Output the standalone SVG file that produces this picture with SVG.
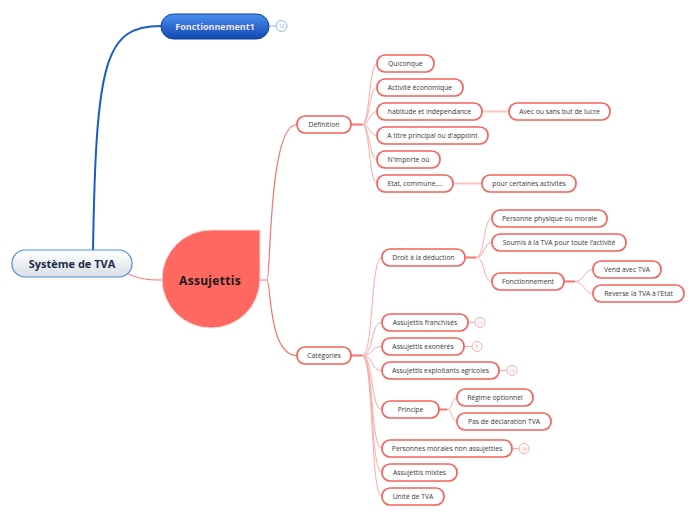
<svg xmlns="http://www.w3.org/2000/svg" width="696" height="520" viewBox="0 0 696 520">
<defs>
<linearGradient id="gRoot" x1="0" y1="0" x2="0" y2="1"><stop offset="0" stop-color="#ffffff"/><stop offset="1" stop-color="#d9dfe6"/></linearGradient>
<linearGradient id="gBlue" x1="0" y1="0" x2="0" y2="1"><stop offset="0" stop-color="#4a8ff0"/><stop offset="1" stop-color="#1148b0"/></linearGradient>
</defs>
<style>
.pill{fill:#fff;stroke:#f4625c;stroke-width:1.7}
.t{font-family:"Open Sans","Noto Sans","Liberation Sans",sans-serif;font-size:6.8px;fill:#3a3a3a;text-anchor:middle;dominant-baseline:central}
.c{fill:none;stroke:#f9aaa6;stroke-width:1}
.stub{fill:none;stroke:#f6746e;stroke-width:2}
.lnk{fill:none;stroke:#fbc4c1;stroke-width:2}
.badge{fill:#fff;stroke:#f9aaa6;stroke-width:1}
.bt{font-family:"Open Sans","Liberation Sans",sans-serif;font-size:5px;fill:#f49a95;text-anchor:middle;dominant-baseline:central}
</style>
<rect width="696" height="520" fill="#fff"/>
<g id="connectors">
<path d="M93,251 C96,60 105,26 161,26" fill="none" stroke="#1a5cc8" stroke-width="2"/>
<path d="M124,272 C140,280 150,280 163,280" fill="none" stroke="#f6746e" stroke-width="1"/>
<path d="M260,280 L267,280 C271,280 268,124.5 297,124.5" fill="none" stroke="#f6746e" stroke-width="1.2"/>
<path d="M267,280 C271,280 268,355.5 297,355.5" fill="none" stroke="#f6746e" stroke-width="1.2"/>
<path class="stub" d="M351,124.5 H362"/>
<path class="c" d="M362,124.5 C370,124.5 369,63.5 377,63.5"/>
<path class="c" d="M362,124.5 C370,124.5 369,87.5 377,87.5"/>
<path class="c" d="M362,124.5 C370,124.5 369,111.5 377,111.5"/>
<path class="c" d="M362,124.5 C370,124.5 369,135.5 377,135.5"/>
<path class="c" d="M362,124.5 C370,124.5 369,159.5 377,159.5"/>
<path class="c" d="M362,124.5 C370,124.5 369,183.5 377,183.5"/>
<path class="lnk" d="M482,111.5 H509"/>
<path class="lnk" d="M453,183.5 H482"/>
<path class="stub" d="M351,355.5 H362"/>
<path class="c" d="M362,355.5 C374,355.5 370,257.5 382,257.5"/>
<path class="c" d="M362,355.5 C374,355.5 370,322.5 382,322.5"/>
<path class="c" d="M362,355.5 C374,355.5 370,346.5 382,346.5"/>
<path class="c" d="M362,355.5 C374,355.5 370,370.5 382,370.5"/>
<path class="c" d="M362,355.5 C374,355.5 370,409.5 382,409.5"/>
<path class="c" d="M362,355.5 C374,355.5 370,448.5 382,448.5"/>
<path class="c" d="M362,355.5 C374,355.5 370,472.5 382,472.5"/>
<path class="c" d="M362,355.5 C374,355.5 370,496.5 382,496.5"/>
<path class="stub" d="M465,257.5 H476"/>
<path class="c" d="M476,257.5 C485,257.5 483,218.5 492,218.5"/>
<path class="c" d="M476,257.5 C485,257.5 483,242.5 492,242.5"/>
<path class="c" d="M476,257.5 C485,257.5 483,281.5 492,281.5"/>
<path class="stub" d="M564,281.5 H575"/>
<path class="c" d="M575,281.5 C584,281.5 584,269.5 593,269.5"/>
<path class="c" d="M575,281.5 C584,281.5 584,293.5 593,293.5"/>
<path class="stub" d="M439,409.5 H447"/>
<path class="c" d="M447,409.5 C453,409.5 451,397.5 457,397.5"/>
<path class="c" d="M447,409.5 C453,409.5 451,421.5 457,421.5"/>
<path d="M269,26 H276" stroke="#8fb4ee" stroke-width="1"/>
<path class="c" d="M468,322.5 H475"/>
<path class="c" d="M464,346.5 H472"/>
<path class="c" d="M499,370.5 H507"/>
<path class="c" d="M512,448.5 H519"/>
</g>
<g id="root">
<rect x="12" y="250" width="120" height="27" rx="13" fill="url(#gRoot)" stroke="#4b8fd6" stroke-width="1.2"/>
<text x="72" y="263.5" font-family="'Open Sans','Noto Sans','Liberation Sans',sans-serif" font-size="11" font-weight="bold" fill="#1e2c48" text-anchor="middle" dominant-baseline="central">Système de TVA</text>
</g>
<g id="fonctionnement1">
<rect x="161" y="14" width="108" height="25" rx="12.5" fill="url(#gBlue)" stroke="#0f3f9a" stroke-width="1"/>
<text x="215" y="26.5" font-family="'Open Sans','Noto Sans','Liberation Sans',sans-serif" font-size="9" font-weight="bold" fill="#f1e4f4" text-anchor="middle" dominant-baseline="central">Fonctionnement1</text>
<circle cx="281.5" cy="26" r="5.5" fill="#fff" stroke="#8fb4ee" stroke-width="1"/>
<text x="281.5" y="26.3" font-family="'Open Sans','Liberation Sans',sans-serif" font-size="5" fill="#7fa6e6" text-anchor="middle" dominant-baseline="central">12</text>
</g>
<g id="assujettis">
<path d="M211,230 L260,230 L260,279 A49,49 0 0 1 211,328 A49,49 0 0 1 162,279 A49,49 0 0 1 211,230 Z" fill="#ff6861" stroke="#f7dcdb" stroke-width="1"/>
<text x="210" y="280" font-family="'Open Sans','Noto Sans','Liberation Sans',sans-serif" font-size="12" font-weight="bold" fill="#1a1a1a" text-anchor="middle" dominant-baseline="central" letter-spacing="0.3">Assujettis</text>
</g>
<g id="definition"><rect class="pill" x="297" y="116" width="54" height="17" rx="8"/><text class="t" x="324" y="124.5">Définition</text></g>
<g id="categories"><rect class="pill" x="297" y="347" width="54" height="17" rx="8"/><text class="t" x="324" y="355.5">Catégories</text></g>
<g id="quiconque"><rect class="pill" x="377" y="55" width="57" height="17" rx="8"/><text class="t" x="405.5" y="63.5">Quiconque</text></g>
<g id="activite"><rect class="pill" x="377" y="79" width="86" height="17" rx="8"/><text class="t" x="420" y="87.5">Activité économique</text></g>
<g id="habitude"><rect class="pill" x="377" y="103" width="105" height="17" rx="8"/><text class="t" x="429.5" y="111.5">habitude et indépendance</text></g>
<g id="titre"><rect class="pill" x="377" y="127" width="111" height="17" rx="8"/><text class="t" x="432.5" y="135.5">A titre principal ou d'appoint</text></g>
<g id="importe"><rect class="pill" x="377" y="151" width="63" height="17" rx="8"/><text class="t" x="408.5" y="159.5">N'importe où</text></g>
<g id="etat"><rect class="pill" x="377" y="175" width="76" height="17" rx="8"/><text class="t" x="415" y="183.5">Etat, commune,...</text></g>
<g id="avec"><rect class="pill" x="509" y="103" width="101" height="17" rx="8"/><text class="t" x="559.5" y="111.5">Avec ou sans but de lucre</text></g>
<g id="pour"><rect class="pill" x="482" y="175" width="94" height="17" rx="8"/><text class="t" x="529" y="183.5">pour certaines activités</text></g>
<g id="droit"><rect class="pill" x="382" y="249" width="83" height="17" rx="8"/><text class="t" x="423.5" y="257.5">Droit à la déduction</text></g>
<g id="personne"><rect class="pill" x="492" y="210" width="115" height="17" rx="8"/><text class="t" x="549.5" y="218.5">Personne physique ou morale</text></g>
<g id="soumis"><rect class="pill" x="492" y="234" width="134" height="17" rx="8"/><text class="t" x="559" y="242.5">Soumis à la TVA pour toute l’activité</text></g>
<g id="fonctionnement"><rect class="pill" x="492" y="273" width="72" height="17" rx="8"/><text class="t" x="528" y="281.5">Fonctionnement</text></g>
<g id="vend"><rect class="pill" x="593" y="261" width="68" height="17" rx="8"/><text class="t" x="627" y="269.5">Vend avec TVA</text></g>
<g id="reverse"><rect class="pill" x="593" y="285" width="91" height="17" rx="8"/><text class="t" x="638.5" y="293.5">Reverse la TVA à l’Etat</text></g>
<g id="franchises"><rect class="pill" x="382" y="314" width="86" height="17" rx="8"/><text class="t" x="425" y="322.5">Assujettis franchisés</text><circle class="badge" cx="480" cy="322.5" r="5"/><text class="bt" x="480" y="322.8">11</text></g>
<g id="exoneres"><rect class="pill" x="382" y="338" width="82" height="17" rx="8"/><text class="t" x="423" y="346.5">Assujettis exonérés</text><circle class="badge" cx="477" cy="346.5" r="5"/><text class="bt" x="477" y="346.8">5</text></g>
<g id="agricoles"><rect class="pill" x="382" y="362" width="117" height="17" rx="8"/><text class="t" x="440.5" y="370.5">Assujettis exploitants agricoles</text><circle class="badge" cx="512" cy="370.5" r="5"/><text class="bt" x="512" y="370.8">10</text></g>
<g id="principe"><rect class="pill" x="382" y="401" width="57" height="17" rx="8"/><text class="t" x="410.5" y="409.5">Principe</text></g>
<g id="regime"><rect class="pill" x="457" y="389" width="76" height="17" rx="8"/><text class="t" x="495" y="397.5">Régime optionnel</text></g>
<g id="pasdecl"><rect class="pill" x="457" y="413" width="94" height="17" rx="8"/><text class="t" x="504" y="421.5">Pas de déclaration TVA</text></g>
<g id="morales"><rect class="pill" x="382" y="440" width="130" height="17" rx="8"/><text class="t" x="447" y="448.5">Personnes morales non assujetties</text><circle class="badge" cx="524" cy="448.5" r="5"/><text class="bt" x="524" y="448.8">14</text></g>
<g id="mixtes"><rect class="pill" x="382" y="464" width="75" height="17" rx="8"/><text class="t" x="419.5" y="472.5">Assujettis mixtes</text></g>
<g id="unite"><rect class="pill" x="382" y="488" width="62" height="17" rx="8"/><text class="t" x="413" y="496.5">Unité de TVA</text></g>
</svg>
